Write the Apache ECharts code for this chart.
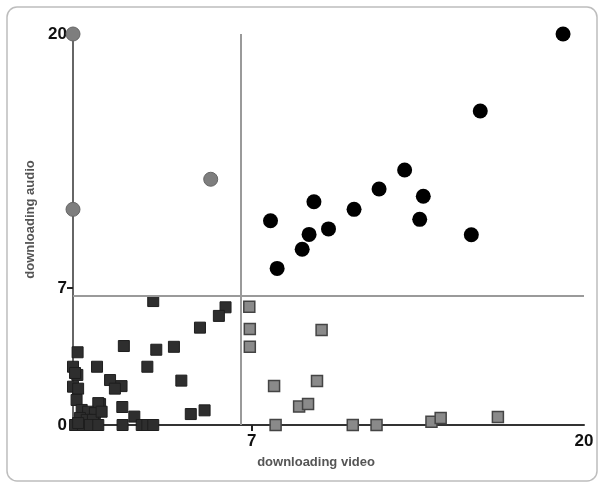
<!DOCTYPE html>
<html><head><meta charset="utf-8">
<script src="https://cdn.jsdelivr.net/npm/echarts@6/dist/echarts.min.js"></script>
<style>html,body{margin:0;padding:0;background:#fff}#c{width:602px;height:485px}</style>
</head><body><div id="c"></div>
<script>
const xTicks = [0, 7, 20];
const yTicks = [0, 7, 20];
const xDivider = 6.57;
const yDivider = 6.6;
// black circles: high video & high audio
const blackCircles = [[7.73,10.45],[7.99,8.01],[9.43,11.42],[9.24,9.75],[8.97,8.99],[10.0,10.03],[11.0,11.03],[11.98,12.07],[12.98,13.04],[13.71,11.7],[13.57,10.52],[15.59,9.73],[15.94,16.06],[19.18,20.0]];
// gray circles: low video & high audio
const grayCircles = [[0,20],[0,11.03],[5.39,12.57]];
// dark squares: low video & low audio
const darkSquares = [[3.14,6.34],[5.97,6.02],[5.71,5.58],[4.97,4.98],[1.99,4.04],[3.26,3.85],[3.95,4.0],[0.18,3.72],[0,2.98],[0.94,2.98],[2.91,2.98],[0.17,2.56],[1.45,2.3],[1.9,1.99],[1.64,1.86],[0,1.96],[0.2,1.86],[4.24,2.27],[0.14,1.28],[1.06,1.07],[1.93,0.92],[2.4,0.43],[4.61,0.56],[5.15,0.75],[0.08,2.66],[0.99,1.12],[0.34,0.77],[0.59,0.68],[0.86,0.61],[0.27,0.36],[0.54,0.26],[0.78,0.26],[1.12,0.68],[0.08,0],[0.39,0],[0.66,0],[0.99,0],[1.94,0],[2.69,0],[2.91,0],[3.14,0],[0.2,0.1]];
// gray squares: high video & low audio
const graySquares = [[6.9,6.05],[6.92,4.91],[6.92,4.0],[9.73,4.86],[7.87,1.99],[9.55,2.25],[8.85,0.94],[9.2,1.07],[7.93,0],[10.95,0],[11.88,0],[14.03,0.17],[14.39,0.36],[16.63,0.41]];

const chart = echarts.init(document.getElementById('c'));
const font = 'Liberation Sans, Arial, sans-serif';
chart.setOption({
  animation: false,
  backgroundColor: '#fff',
  graphic: [{type:'rect', shape:{x:7,y:7,width:590,height:474,r:10}, style:{fill:'none',stroke:'#bdbdbd',lineWidth:1.5}, z:-1}],
  grid: {left:73, right:18, top:34, bottom:60},
  xAxis: {
    type:'value', min:0, max:20,
    splitLine:{show:false},
    axisLine:{lineStyle:{color:'#333', width:2}},
    axisTick:{show:true, customValues:[7], length:6, lineStyle:{color:'#222', width:2}},
    axisLabel:{customValues:[7,20], margin:8, fontSize:17, fontWeight:'bold', color:'#111', fontFamily:font},
    name:'downloading video', nameLocation:'middle', nameGap:31,
    nameTextStyle:{fontSize:13, fontWeight:'bold', color:'#555', fontFamily:font, padding:[0,25,0,0]}
  },
  yAxis: {
    type:'value', min:0, max:20,
    splitLine:{show:false},
    axisLine:{lineStyle:{color:'#666', width:2}},
    axisTick:{show:true, customValues:[7], length:6, lineStyle:{color:'#222', width:2}},
    axisLabel:{customValues:yTicks, margin:6, fontSize:17, fontWeight:'bold', color:'#111', fontFamily:font},
    name:'downloading audio', nameLocation:'middle', nameGap:30,
    nameTextStyle:{fontSize:13, fontWeight:'bold', color:'#555', fontFamily:font, padding:[12,0,0,20]}
  },
  series: [
    {type:'scatter', data:[], markLine:{silent:true, symbol:'none', label:{show:false},
      lineStyle:{type:'solid', color:'#9a9a9a', width:2},
      data:[{xAxis:xDivider},{yAxis:yDivider}]}},
    {type:'scatter', clip:false, data:darkSquares, symbol:'rect', symbolSize:11,
      itemStyle:{color:'#2e2e2e', borderColor:'#1e1e1e', borderWidth:1, opacity:1}},
    {type:'scatter', clip:false, data:graySquares, symbol:'rect', symbolSize:11,
      itemStyle:{color:'#8a8a8a', borderColor:'#444', borderWidth:1.5, opacity:1}},
    {type:'scatter', clip:false, data:grayCircles, symbol:'circle', symbolSize:14,
      itemStyle:{color:'#7e7e7e', borderColor:'#666', borderWidth:1, opacity:1}},
    {type:'scatter', clip:false, data:blackCircles, symbol:'circle', symbolSize:15,
      itemStyle:{color:'#000', opacity:1}}
  ]
});
</script></body></html>
